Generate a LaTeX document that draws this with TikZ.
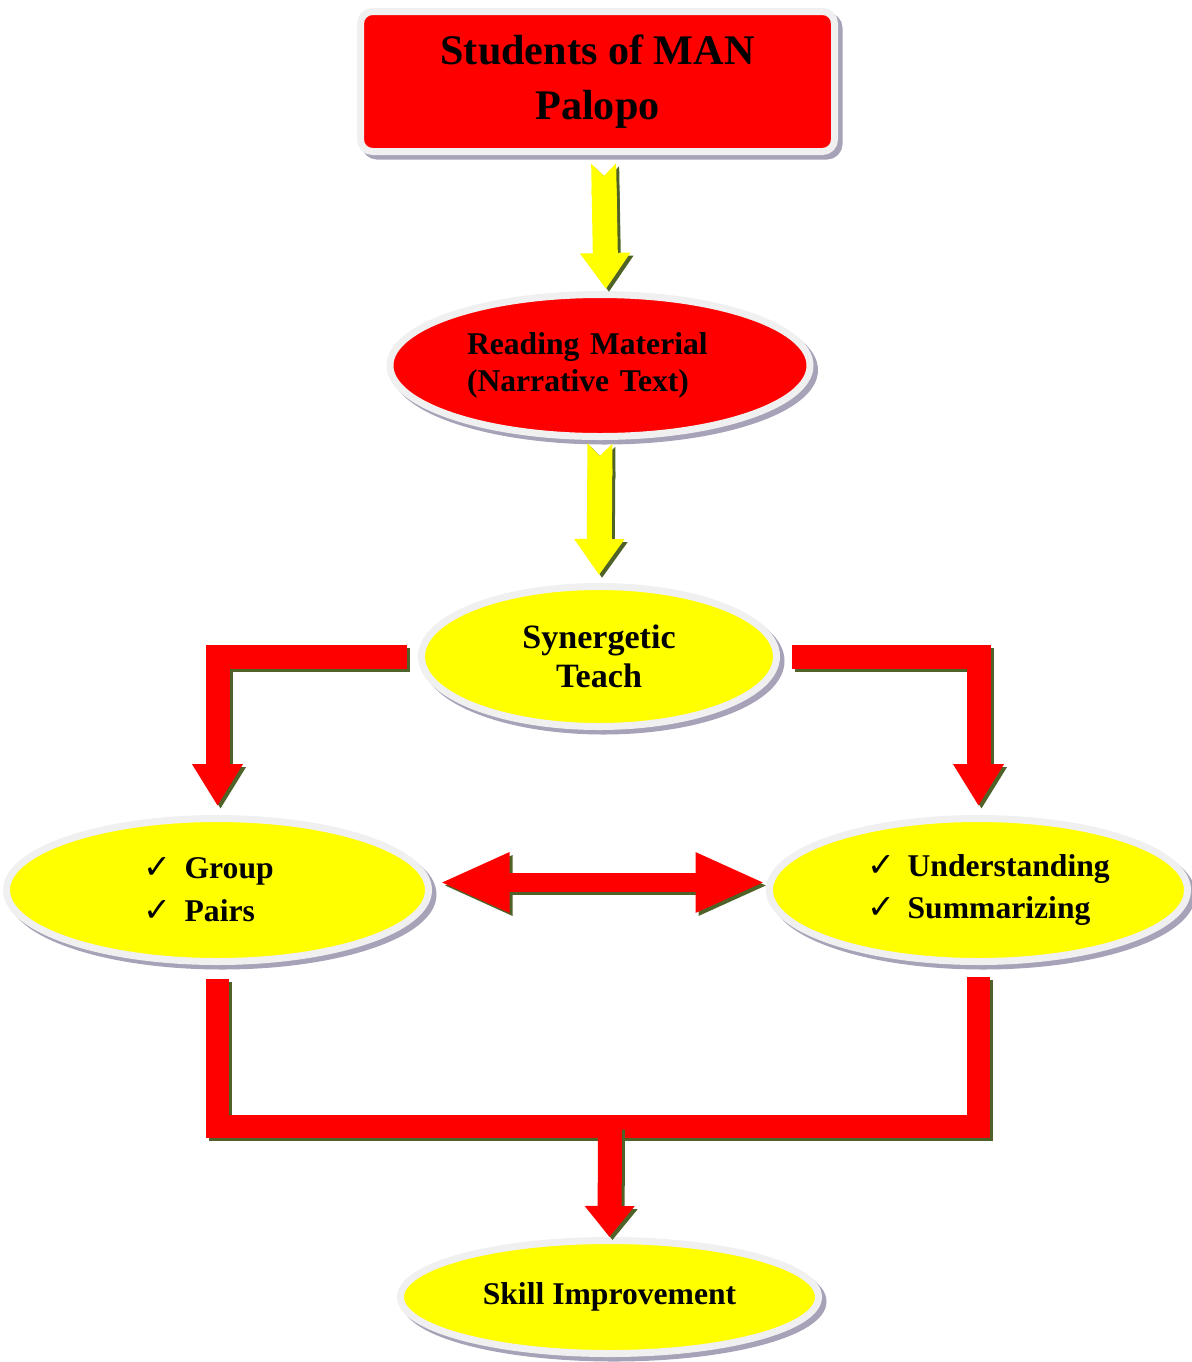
\documentclass[tikz,border=0pt]{standalone}
\usepackage{fontspec}
\setmainfont{Liberation Serif}
\newfontfamily\symfont{DejaVu Sans}
\usetikzlibrary{arrows.meta,shapes.geometric,positioning}

\definecolor{boxred}{HTML}{FF0000}
\definecolor{boxyellow}{HTML}{FFFF00}
\definecolor{rimgrey}{HTML}{F0F0F0}
\definecolor{shadegrey}{HTML}{A7A2B8}
\definecolor{arrowshade}{HTML}{4F6228}

\newcommand{\chk}{{\symfont\fontsize{9.5}{9.5}\selectfont ✓}\hspace{0.4em}}
% block arrow with its dark shadow
\newcommand{\fatarrow}[2]{%
  \draw[#1, draw=arrowshade, transform canvas={shift={(0.03,-0.03)}}] #2;
  \draw[#1] #2;}

\tikzset{
  card/.style={draw=rimgrey, line width=0.07cm,
    preaction={draw=shadegrey, fill=shadegrey, line width=0.07cm,
      transform canvas={shift={(0.045,-0.045)}}},
    font=\fontsize{9}{12.2}\selectfont\bfseries},
  oval/.style={card, ellipse, inner sep=0pt},
  yarrow/.style={draw=boxyellow, line width=0.25cm,
    {Triangle Cap[reversed]}-{Triangle[width=0.48cm,length=0.36cm]}},
  larrow/.style={draw=boxred, line width=0.24cm, miter limit=4,
    -{Triangle[width=0.48cm,length=0.42cm]}},
  twoway/.style={draw=boxred, line width=0.19cm,
    {Triangle[width=0.55cm,length=0.7cm]}-{Triangle[width=0.55cm,length=0.7cm]}},
  redbar/.style={draw=boxred, line width=0.23cm, miter limit=4}
}

\begin{document}
\begin{tikzpicture}
\useasboundingbox (0,0) rectangle (11.91,-13.62);

% Nodes
\node[card, fill=boxred, rounded corners=0.12cm, minimum width=4.74cm,
  minimum height=1.40cm, align=center, font=\fontsize{12}{15.6}\selectfont\bfseries]
  (students) at (5.975,-0.815) {Students of MAN\\Palopo};
\node[oval, fill=boxred, minimum width=4.20cm, minimum height=1.42cm,
  text width=2.66cm, align=left, font=\fontsize{9}{10.5}\selectfont\bfseries]
  (reading) at (6.0,-3.655) {Reading Material\\(Narrative Text)};
\node[oval, fill=boxyellow, minimum width=3.55cm, minimum height=1.40cm,
  align=center, font=\fontsize{9.7}{11}\selectfont\bfseries]
  (synergy) at (5.99,-6.565) {Synergetic\\Teach};
\node[oval, fill=boxyellow, minimum width=4.22cm, minimum height=1.43cm,
  text width=1.47cm, align=left]
  (group) at (2.175,-8.90) {\mbox{\chk Group}\\\mbox{\chk Pairs}};
\node[oval, fill=boxyellow, minimum width=4.18cm, minimum height=1.43cm,
  text width=2.23cm, align=left]
  (skills) at (9.785,-8.90) {\mbox{\chk Understanding}\\\mbox{\chk Summarizing}};
\node[oval, fill=boxyellow, minimum width=4.18cm, minimum height=1.13cm]
  (improve) at (6.095,-12.97) {Skill Improvement};

\coordinate (join) at (6.10,-11.265);

% Connections
\fatarrow{yarrow, shorten <=0.085cm, shorten >=0.02cm}
  {([xshift=0.06cm]students.south) -- ([xshift=0.06cm]reading.north)}
\fatarrow{yarrow, shorten <=0.035cm, shorten >=0.08cm}
  {(reading.south) -- (synergy.north)}
\fatarrow{larrow, shorten >=0.09cm}
  {([xshift=-0.115cm]synergy.west) -| (group.north)}
\fatarrow{larrow, shorten >=0.09cm}
  {([xshift=0.115cm]synergy.east) -| (skills.north)}
\fatarrow{twoway, shorten <=0.075cm, shorten >=0.005cm}
  {([yshift=0.075cm]group.east) -- ([yshift=0.075cm]skills.west)}
\fatarrow{redbar}
  {([yshift=-0.135cm]group.south) |- (join) -| ([yshift=-0.115cm]skills.south)}
\fatarrow{larrow, line width=0.24cm, -{Triangle[width=0.48cm,length=0.31cm]}, shorten >=0.0cm}
  {(join) -- (improve.north)}
\end{tikzpicture}
\end{document}
